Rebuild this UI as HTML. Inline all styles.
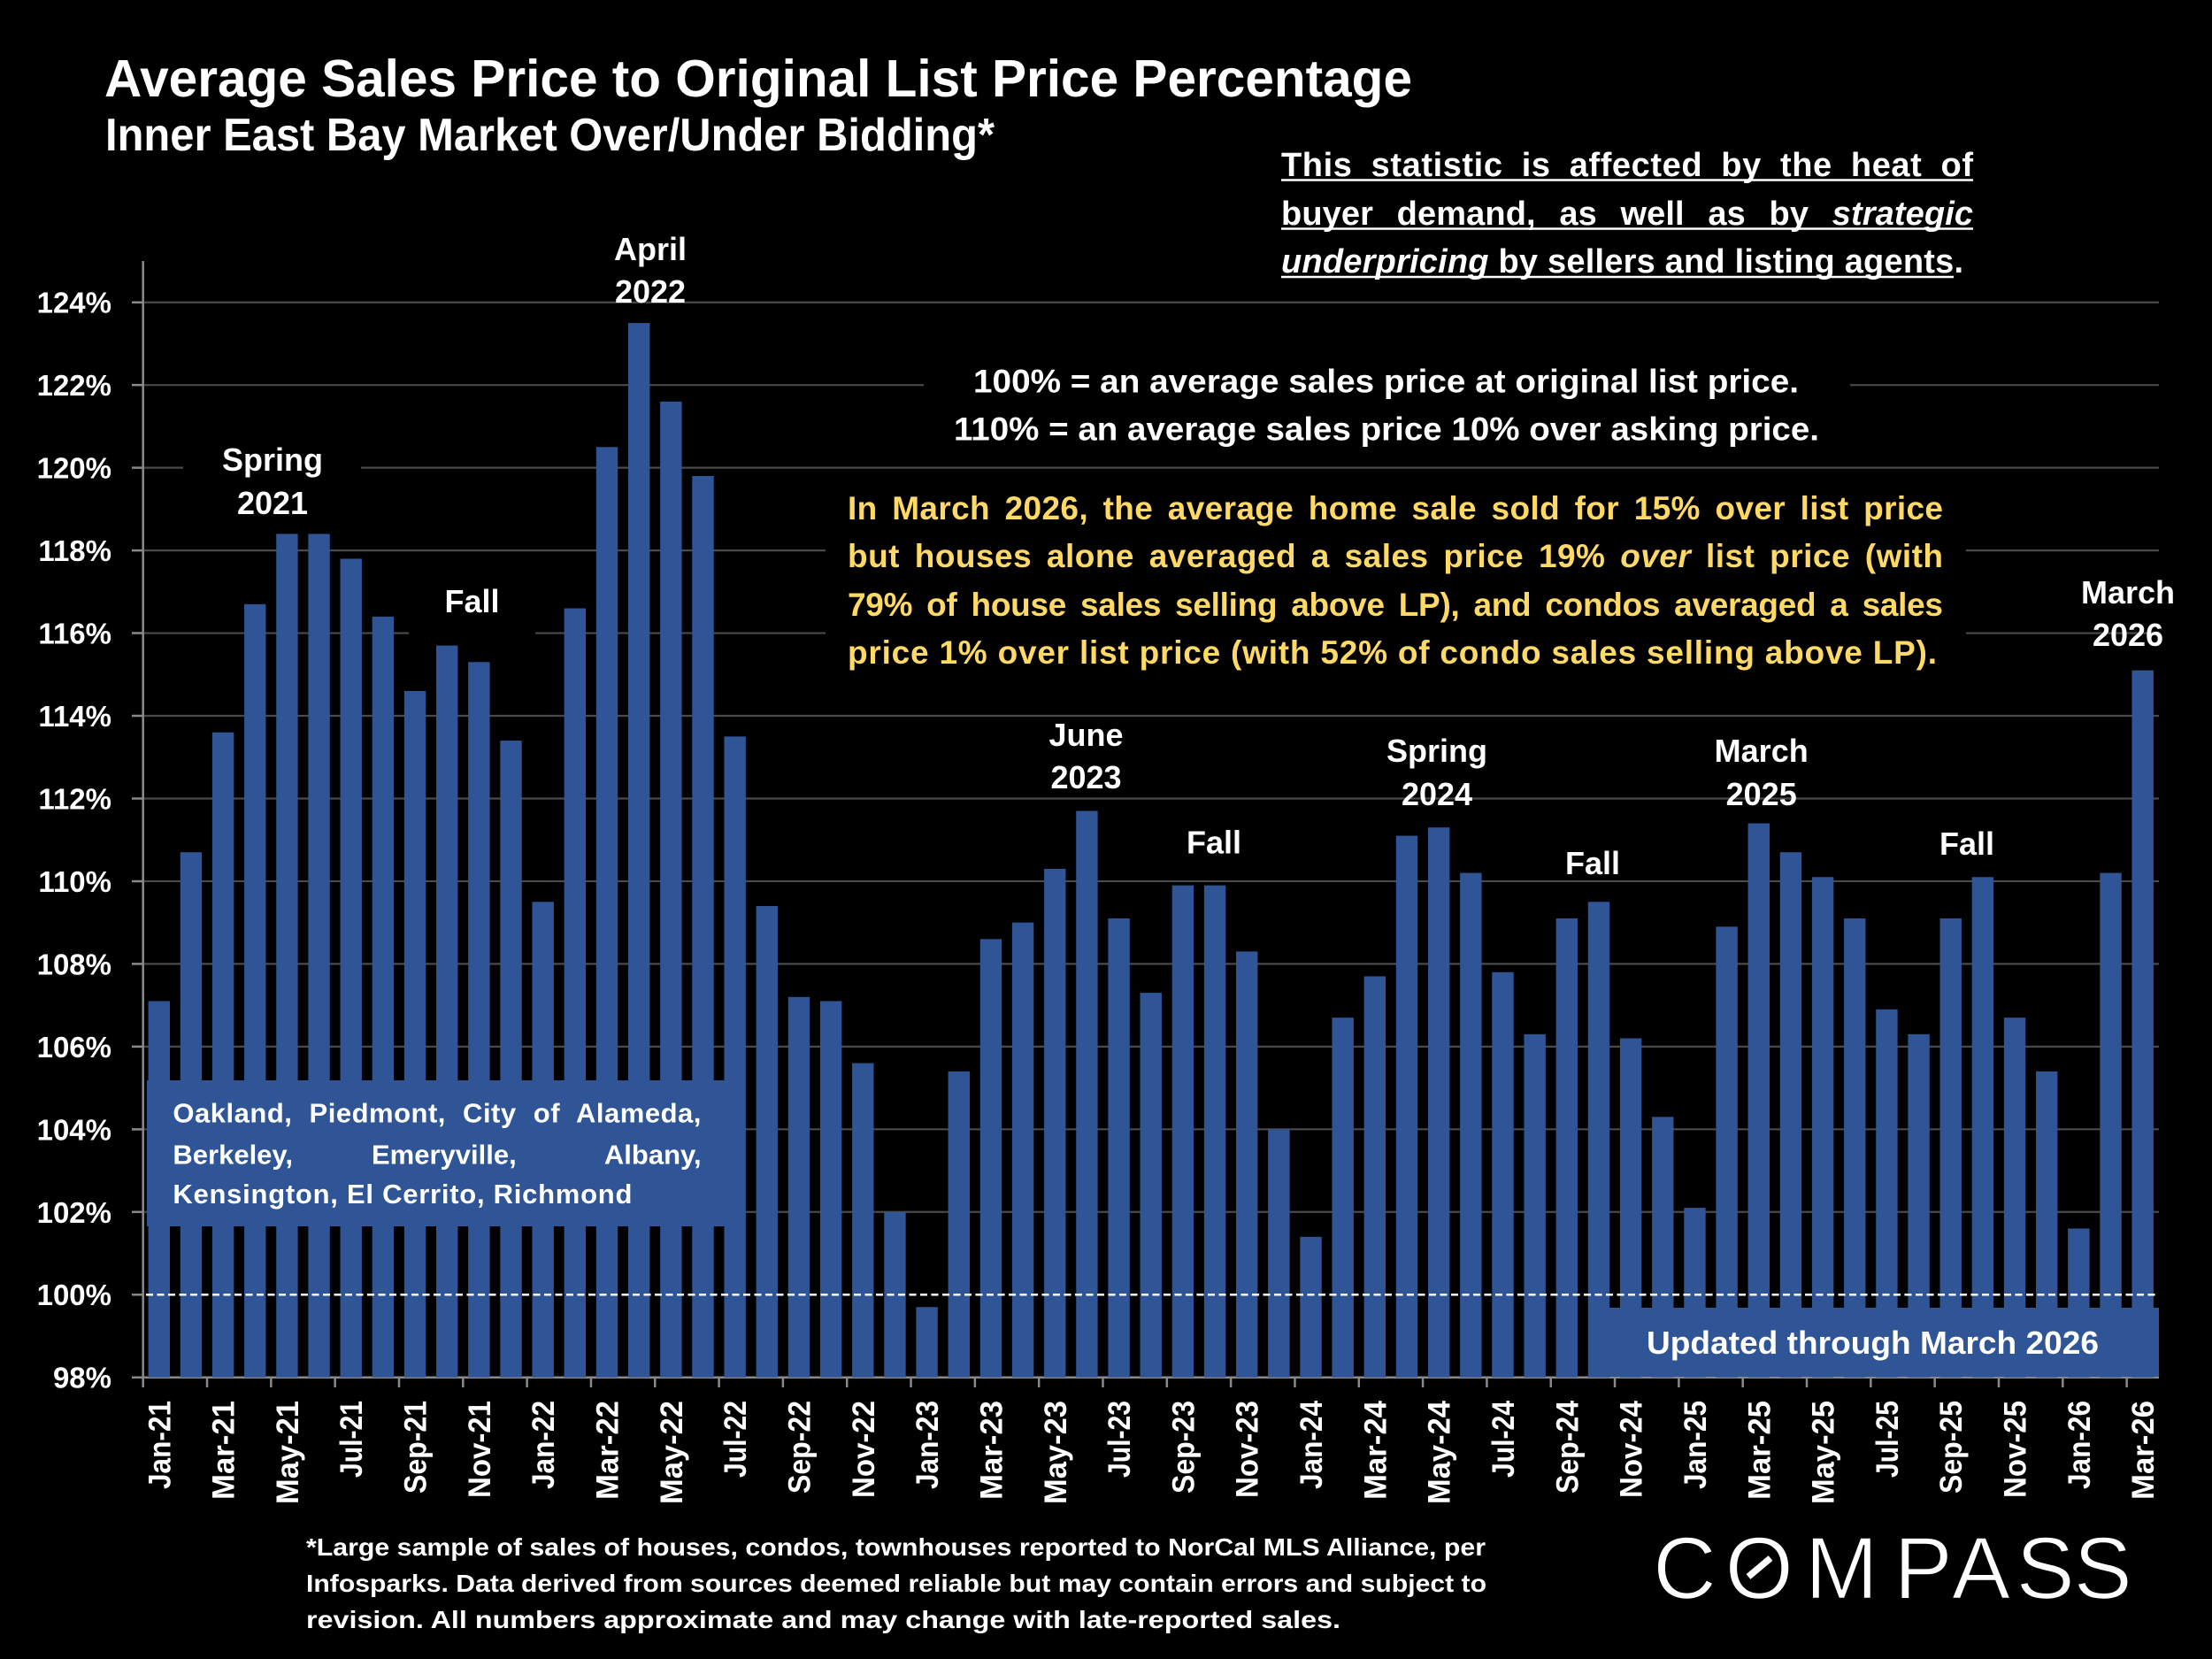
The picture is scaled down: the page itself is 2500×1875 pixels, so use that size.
<!DOCTYPE html>
<html><head><meta charset="utf-8"><style>html,body{margin:0;padding:0;background:#000;width:2500px;height:1875px;overflow:hidden}svg{display:block}</style></head><body>
<svg width="2500" height="1875" viewBox="0 0 2500 1875" xmlns="http://www.w3.org/2000/svg" font-family="'Liberation Sans', Arial, sans-serif">
<rect x="0" y="0" width="2500" height="1875" fill="#000"/>
<!-- gridlines -->
<path d="M161.7 1369.78H2440M161.7 1276.32H2440M161.7 1182.86H2440M161.7 1089.4H2440M161.7 995.94H2440M161.7 902.48H2440M161.7 809.02H2440M161.7 715.56H2440M161.7 622.1H2440M161.7 528.64H2440M161.7 435.18H2440M161.7 341.72H2440" stroke="#4a4a4a" stroke-width="2.2" fill="none"/>
<!-- black backgrounds of text boxes -->
<rect x="207" y="495" width="201" height="97" fill="#000"/>
<rect x="462" y="650" width="143" height="72" fill="#000"/>
<rect x="1044" y="400" width="1047" height="115" fill="#000"/>
<rect x="933" y="545" width="1289" height="230" fill="#000"/>
<!-- axes -->
<path d="M161.7 295V1556.7H2440" stroke="#898989" stroke-width="2.5" fill="none"/>
<path d="M149 1556.7H161.7M149 1463.24H161.7M149 1369.78H161.7M149 1276.32H161.7M149 1182.86H161.7M149 1089.4H161.7M149 995.94H161.7M149 902.48H161.7M149 809.02H161.7M149 715.56H161.7M149 622.1H161.7M149 528.64H161.7M149 435.18H161.7M149 341.72H161.7" stroke="#898989" stroke-width="2.5"/>
<path d="M161.7 1556.7V1568M234.02 1556.7V1568M306.34 1556.7V1568M378.66 1556.7V1568M450.98 1556.7V1568M523.3 1556.7V1568M595.62 1556.7V1568M667.94 1556.7V1568M740.26 1556.7V1568M812.58 1556.7V1568M884.9 1556.7V1568M957.22 1556.7V1568M1029.54 1556.7V1568M1101.86 1556.7V1568M1174.18 1556.7V1568M1246.5 1556.7V1568M1318.82 1556.7V1568M1391.14 1556.7V1568M1463.46 1556.7V1568M1535.78 1556.7V1568M1608.1 1556.7V1568M1680.42 1556.7V1568M1752.74 1556.7V1568M1825.06 1556.7V1568M1897.38 1556.7V1568M1969.7 1556.7V1568M2042.02 1556.7V1568M2114.34 1556.7V1568M2186.66 1556.7V1568M2258.98 1556.7V1568M2331.3 1556.7V1568M2403.62 1556.7V1568" stroke="#898989" stroke-width="2.5"/>
<!-- bars -->
<g fill="#2F5597">
<rect x="167.58" y="1131.46" width="24.4" height="425.24"/>
<rect x="203.74" y="963.23" width="24.4" height="593.47"/>
<rect x="239.9" y="827.71" width="24.4" height="728.99"/>
<rect x="276.06" y="682.85" width="24.4" height="873.85"/>
<rect x="312.22" y="603.41" width="24.4" height="953.29"/>
<rect x="348.38" y="603.41" width="24.4" height="953.29"/>
<rect x="384.54" y="631.45" width="24.4" height="925.25"/>
<rect x="420.7" y="696.87" width="24.4" height="859.83"/>
<rect x="456.86" y="780.98" width="24.4" height="775.72"/>
<rect x="493.02" y="729.58" width="24.4" height="827.12"/>
<rect x="529.18" y="748.27" width="24.4" height="808.43"/>
<rect x="565.34" y="837.06" width="24.4" height="719.64"/>
<rect x="601.5" y="1019.3" width="24.4" height="537.4"/>
<rect x="637.66" y="687.52" width="24.4" height="869.18"/>
<rect x="673.82" y="505.27" width="24.4" height="1051.43"/>
<rect x="709.98" y="365.08" width="24.4" height="1191.62"/>
<rect x="746.14" y="453.87" width="24.4" height="1102.83"/>
<rect x="782.3" y="537.99" width="24.4" height="1018.71"/>
<rect x="818.46" y="832.38" width="24.4" height="724.32"/>
<rect x="854.62" y="1023.98" width="24.4" height="532.72"/>
<rect x="890.78" y="1126.78" width="24.4" height="429.92"/>
<rect x="926.94" y="1131.46" width="24.4" height="425.24"/>
<rect x="963.1" y="1201.55" width="24.4" height="355.15"/>
<rect x="999.26" y="1369.78" width="24.4" height="186.92"/>
<rect x="1035.42" y="1477.26" width="24.4" height="79.44"/>
<rect x="1071.58" y="1210.9" width="24.4" height="345.8"/>
<rect x="1107.74" y="1061.36" width="24.4" height="495.34"/>
<rect x="1143.9" y="1042.67" width="24.4" height="514.03"/>
<rect x="1180.06" y="981.92" width="24.4" height="574.78"/>
<rect x="1216.22" y="916.5" width="24.4" height="640.2"/>
<rect x="1252.38" y="1038" width="24.4" height="518.7"/>
<rect x="1288.54" y="1122.11" width="24.4" height="434.59"/>
<rect x="1324.7" y="1000.61" width="24.4" height="556.09"/>
<rect x="1360.86" y="1000.61" width="24.4" height="556.09"/>
<rect x="1397.02" y="1075.38" width="24.4" height="481.32"/>
<rect x="1433.18" y="1276.32" width="24.4" height="280.38"/>
<rect x="1469.34" y="1397.82" width="24.4" height="158.88"/>
<rect x="1505.5" y="1150.15" width="24.4" height="406.55"/>
<rect x="1541.66" y="1103.42" width="24.4" height="453.28"/>
<rect x="1577.82" y="944.54" width="24.4" height="612.16"/>
<rect x="1613.98" y="935.19" width="24.4" height="621.51"/>
<rect x="1650.14" y="986.59" width="24.4" height="570.11"/>
<rect x="1686.3" y="1098.75" width="24.4" height="457.95"/>
<rect x="1722.46" y="1168.84" width="24.4" height="387.86"/>
<rect x="1758.62" y="1038" width="24.4" height="518.7"/>
<rect x="1794.78" y="1019.3" width="24.4" height="537.4"/>
<rect x="1830.94" y="1173.51" width="24.4" height="383.19"/>
<rect x="1867.1" y="1262.3" width="24.4" height="294.4"/>
<rect x="1903.26" y="1365.11" width="24.4" height="191.59"/>
<rect x="1939.42" y="1047.34" width="24.4" height="509.36"/>
<rect x="1975.58" y="930.52" width="24.4" height="626.18"/>
<rect x="2011.74" y="963.23" width="24.4" height="593.47"/>
<rect x="2047.9" y="991.27" width="24.4" height="565.43"/>
<rect x="2084.06" y="1038" width="24.4" height="518.7"/>
<rect x="2120.22" y="1140.8" width="24.4" height="415.9"/>
<rect x="2156.38" y="1168.84" width="24.4" height="387.86"/>
<rect x="2192.54" y="1038" width="24.4" height="518.7"/>
<rect x="2228.7" y="991.27" width="24.4" height="565.43"/>
<rect x="2264.86" y="1150.15" width="24.4" height="406.55"/>
<rect x="2301.02" y="1210.9" width="24.4" height="345.8"/>
<rect x="2337.18" y="1388.47" width="24.4" height="168.23"/>
<rect x="2373.34" y="986.59" width="24.4" height="570.11"/>
<rect x="2409.5" y="757.62" width="24.4" height="799.08"/>
</g>
<!-- 100% dashed line -->
<path d="M165 1463.24H2440" stroke="#fff" stroke-width="2.5" stroke-dasharray="8 4.5"/>
<!-- city box -->
<rect x="166" y="1221" width="676" height="165" fill="#2F5597"/>
<g fill="#fff" font-weight="bold" font-size="31">
<text x="195.4" y="1268.7" textLength="597" lengthAdjust="spacing" word-spacing="10">Oakland, Piedmont, City of Alameda,</text>
<text x="195.4" y="1315.5">Berkeley,</text>
<text x="420" y="1315.5">Emeryville,</text>
<text x="792.6" y="1315.5" text-anchor="end">Albany,</text>
<text x="195.4" y="1359.9" textLength="519" lengthAdjust="spacing">Kensington, El Cerrito, Richmond</text>
</g>
<!-- updated box -->
<rect x="1795" y="1478" width="645" height="78" fill="#2F5597"/>
<text x="1861" y="1530" fill="#fff" font-weight="bold" font-size="36" textLength="511" lengthAdjust="spacingAndGlyphs">Updated through March 2026</text>
<!-- y labels -->
<g fill="#fff" font-weight="bold" font-size="33" text-anchor="end">
<text x="126" y="1568.7">98%</text>
<text x="126" y="1475.2">100%</text>
<text x="126" y="1381.8">102%</text>
<text x="126" y="1288.3">104%</text>
<text x="126" y="1194.9">106%</text>
<text x="126" y="1101.4">108%</text>
<text x="126" y="1007.9">110%</text>
<text x="126" y="914.5">112%</text>
<text x="126" y="821">114%</text>
<text x="126" y="727.6">116%</text>
<text x="126" y="634.1">118%</text>
<text x="126" y="540.6">120%</text>
<text x="126" y="447.2">122%</text>
<text x="126" y="353.7">124%</text>
</g>
<!-- x labels -->
<g fill="#fff" font-weight="bold" font-size="35" text-anchor="end">
<text transform="translate(192.28 1583) rotate(-90)" textLength="100" lengthAdjust="spacingAndGlyphs">Jan-21</text>
<text transform="translate(264.6 1583) rotate(-90)" textLength="112" lengthAdjust="spacingAndGlyphs">Mar-21</text>
<text transform="translate(336.92 1583) rotate(-90)" textLength="117" lengthAdjust="spacingAndGlyphs">May-21</text>
<text transform="translate(409.24 1583) rotate(-90)" textLength="87" lengthAdjust="spacingAndGlyphs">Jul-21</text>
<text transform="translate(481.56 1583) rotate(-90)" textLength="105" lengthAdjust="spacingAndGlyphs">Sep-21</text>
<text transform="translate(553.88 1583) rotate(-90)" textLength="110" lengthAdjust="spacingAndGlyphs">Nov-21</text>
<text transform="translate(626.2 1583) rotate(-90)" textLength="100" lengthAdjust="spacingAndGlyphs">Jan-22</text>
<text transform="translate(698.52 1583) rotate(-90)" textLength="112" lengthAdjust="spacingAndGlyphs">Mar-22</text>
<text transform="translate(770.84 1583) rotate(-90)" textLength="117" lengthAdjust="spacingAndGlyphs">May-22</text>
<text transform="translate(843.16 1583) rotate(-90)" textLength="87" lengthAdjust="spacingAndGlyphs">Jul-22</text>
<text transform="translate(915.48 1583) rotate(-90)" textLength="105" lengthAdjust="spacingAndGlyphs">Sep-22</text>
<text transform="translate(987.8 1583) rotate(-90)" textLength="110" lengthAdjust="spacingAndGlyphs">Nov-22</text>
<text transform="translate(1060.12 1583) rotate(-90)" textLength="100" lengthAdjust="spacingAndGlyphs">Jan-23</text>
<text transform="translate(1132.44 1583) rotate(-90)" textLength="112" lengthAdjust="spacingAndGlyphs">Mar-23</text>
<text transform="translate(1204.76 1583) rotate(-90)" textLength="117" lengthAdjust="spacingAndGlyphs">May-23</text>
<text transform="translate(1277.08 1583) rotate(-90)" textLength="87" lengthAdjust="spacingAndGlyphs">Jul-23</text>
<text transform="translate(1349.4 1583) rotate(-90)" textLength="105" lengthAdjust="spacingAndGlyphs">Sep-23</text>
<text transform="translate(1421.72 1583) rotate(-90)" textLength="110" lengthAdjust="spacingAndGlyphs">Nov-23</text>
<text transform="translate(1494.04 1583) rotate(-90)" textLength="100" lengthAdjust="spacingAndGlyphs">Jan-24</text>
<text transform="translate(1566.36 1583) rotate(-90)" textLength="112" lengthAdjust="spacingAndGlyphs">Mar-24</text>
<text transform="translate(1638.68 1583) rotate(-90)" textLength="117" lengthAdjust="spacingAndGlyphs">May-24</text>
<text transform="translate(1711 1583) rotate(-90)" textLength="87" lengthAdjust="spacingAndGlyphs">Jul-24</text>
<text transform="translate(1783.32 1583) rotate(-90)" textLength="105" lengthAdjust="spacingAndGlyphs">Sep-24</text>
<text transform="translate(1855.64 1583) rotate(-90)" textLength="110" lengthAdjust="spacingAndGlyphs">Nov-24</text>
<text transform="translate(1927.96 1583) rotate(-90)" textLength="100" lengthAdjust="spacingAndGlyphs">Jan-25</text>
<text transform="translate(2000.28 1583) rotate(-90)" textLength="112" lengthAdjust="spacingAndGlyphs">Mar-25</text>
<text transform="translate(2072.6 1583) rotate(-90)" textLength="117" lengthAdjust="spacingAndGlyphs">May-25</text>
<text transform="translate(2144.92 1583) rotate(-90)" textLength="87" lengthAdjust="spacingAndGlyphs">Jul-25</text>
<text transform="translate(2217.24 1583) rotate(-90)" textLength="105" lengthAdjust="spacingAndGlyphs">Sep-25</text>
<text transform="translate(2289.56 1583) rotate(-90)" textLength="110" lengthAdjust="spacingAndGlyphs">Nov-25</text>
<text transform="translate(2361.88 1583) rotate(-90)" textLength="100" lengthAdjust="spacingAndGlyphs">Jan-26</text>
<text transform="translate(2434.2 1583) rotate(-90)" textLength="112" lengthAdjust="spacingAndGlyphs">Mar-26</text>
</g>
<!-- titles -->
<text x="118" y="109" fill="#fff" font-weight="bold" font-size="59" textLength="1478" lengthAdjust="spacingAndGlyphs">Average Sales Price to Original List Price Percentage</text>
<text x="119" y="170" fill="#fff" font-weight="bold" font-size="52" textLength="1005" lengthAdjust="spacingAndGlyphs">Inner East Bay Market Over/Under Bidding*</text>
<!-- top right note -->
<g fill="#fff" font-weight="bold" font-size="38">
<text x="1448" y="199" textLength="782" lengthAdjust="spacing" word-spacing="10">This statistic is affected by the heat of</text>
<text x="1448" y="254" textLength="782" lengthAdjust="spacing" word-spacing="16">buyer demand, as well as by <tspan font-style="italic">strategic</tspan></text>
<text x="1448" y="308" textLength="771" lengthAdjust="spacing"><tspan font-style="italic">underpricing</tspan> by sellers and listing agents.</text>
</g>
<path d="M1448 203.5H2230M1448 258.5H2230M1448 313H2208" stroke="#fff" stroke-width="2.5"/>
<!-- 100% note -->
<g fill="#fff" font-weight="bold" font-size="37" text-anchor="middle">
<text x="1566.5" y="443.5" textLength="933" lengthAdjust="spacingAndGlyphs">100% = an average sales price at original list price.</text>
<text x="1567" y="497.7" textLength="978" lengthAdjust="spacingAndGlyphs">110% = an average sales price 10% over asking price.</text>
</g>
<!-- yellow note -->
<g fill="#FFD966" font-weight="bold" font-size="37">
<text x="958" y="587" textLength="1238" lengthAdjust="spacing" word-spacing="6">In March 2026, the average home sale sold for 15% over list price</text>
<text x="958" y="641" textLength="1238" lengthAdjust="spacing" word-spacing="6">but houses alone averaged a sales price 19% <tspan font-style="italic">over</tspan> list price (with</text>
<text x="958" y="696" textLength="1238" lengthAdjust="spacing" word-spacing="6">79% of house sales selling above LP), and condos averaged a sales</text>
<text x="958" y="750" textLength="1231" lengthAdjust="spacing">price 1% over list price (with 52% of condo sales selling above LP).</text>
</g>
<!-- annotation labels -->
<g fill="#fff" font-weight="bold" font-size="36" text-anchor="middle">
<text x="308" y="532">Spring</text><text x="308" y="581">2021</text>
<text x="533.5" y="692">Fall</text>
<text x="735" y="294">April</text><text x="735" y="342">2022</text>
<text x="1227.5" y="843">June</text><text x="1227.5" y="891">2023</text>
<text x="1372" y="964.5">Fall</text>
<text x="1624" y="861">Spring</text><text x="1624" y="910">2024</text>
<text x="1800" y="988">Fall</text>
<text x="1990.7" y="861">March</text><text x="1990.7" y="910">2025</text>
<text x="2223" y="966">Fall</text>
<text x="2405" y="682">March</text><text x="2405" y="730">2026</text>
</g>
<!-- footer -->
<g fill="#fff" font-weight="bold" font-size="28">
<text x="346" y="1758" textLength="1333" lengthAdjust="spacingAndGlyphs">*Large sample of sales of houses, condos, townhouses reported to NorCal MLS Alliance, per</text>
<text x="346" y="1799" textLength="1334" lengthAdjust="spacingAndGlyphs">Infosparks. Data derived from sources deemed reliable but may contain errors and subject to</text>
<text x="346" y="1840" textLength="1169" lengthAdjust="spacingAndGlyphs">revision. All numbers approximate and may change with late-reported sales.</text>
</g>
<!-- COMPASS logo -->
<text y="1806.7" fill="#fff" font-size="99" text-anchor="middle" stroke="#000" stroke-width="1.5"><tspan x="1904">C</tspan><tspan x="1988.3">O</tspan><tspan x="2081.3">M</tspan><tspan x="2173.7">P</tspan><tspan x="2239">A</tspan><tspan x="2311.7">S</tspan><tspan x="2376.7">S</tspan></text>
<path d="M1976 1782L2001 1761" stroke="#fff" stroke-width="7.5"/>
</svg>
</body></html>
